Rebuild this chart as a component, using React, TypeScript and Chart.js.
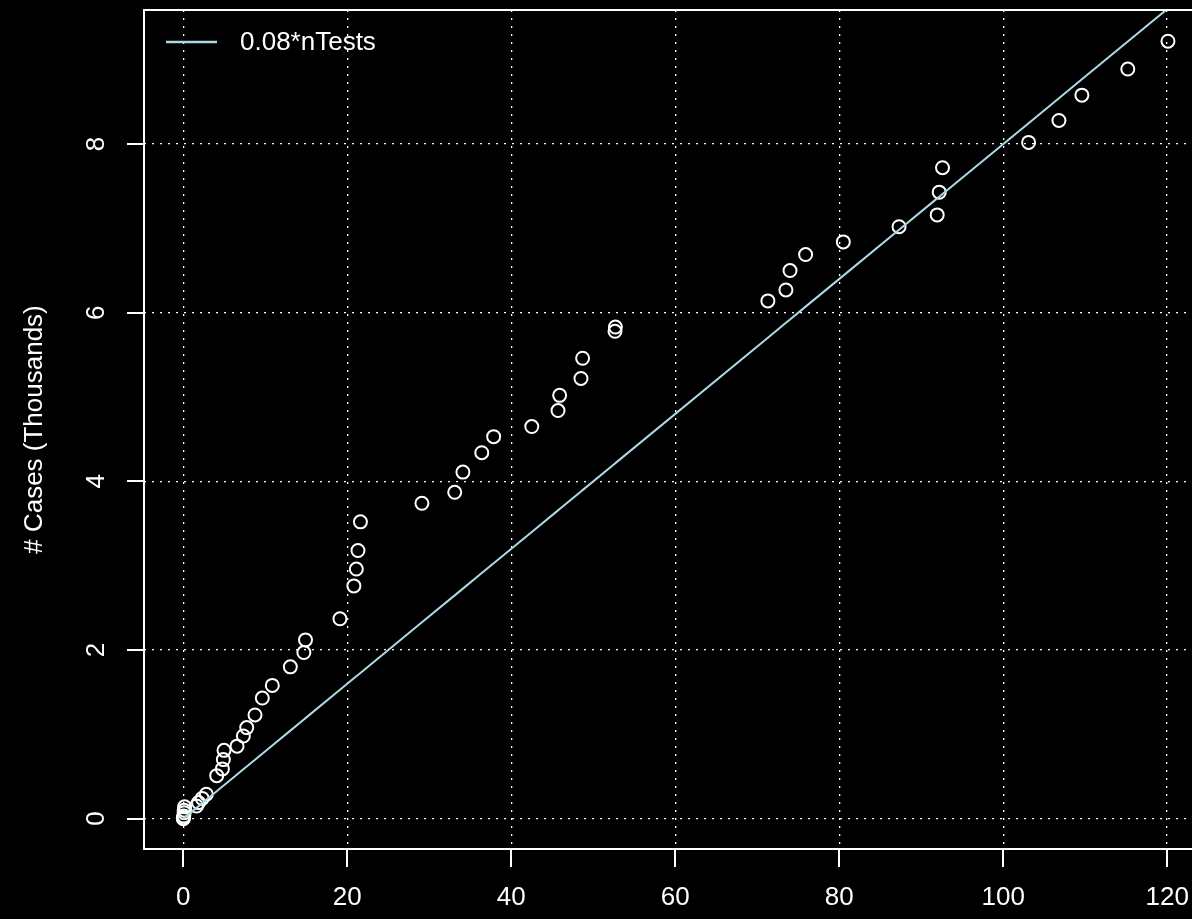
import React, { useEffect, useRef } from "react";
import { Chart, registerables } from "chart.js";

Chart.register(...registerables);

// Number of tests (thousands) and confirmed cases (thousands)
const nTests = [
  0, 0, 0.05, 0.1, 0.1, 0.15, 1.6, 1.85, 2.3, 2.8,
  4.07, 4.76, 4.88, 4.96, 6.55, 7.32, 7.73, 8.74, 9.63, 10.85,
  13.05, 14.7, 14.9, 19.1, 20.8, 21.1, 21.3, 21.6, 29.1, 33.1,
  34.1, 36.4, 37.85, 42.5, 45.7, 45.9, 48.5, 48.7, 52.65, 52.7,
  71.3, 73.5, 74.0, 75.9, 80.5, 87.3, 91.95, 92.2, 92.6, 103.1,
  106.8, 109.6, 115.2, 120.1,
];
const cases = [
  0, 0.01, 0.03, 0.07, 0.1, 0.14, 0.15, 0.19, 0.24, 0.29,
  0.51, 0.59, 0.7, 0.81, 0.86, 0.98, 1.08, 1.23, 1.43, 1.58,
  1.8, 1.97, 2.12, 2.37, 2.76, 2.96, 3.18, 3.52, 3.74, 3.87,
  4.11, 4.34, 4.53, 4.65, 4.84, 5.02, 5.22, 5.46, 5.78, 5.83,
  6.14, 6.27, 6.5, 6.69, 6.84, 7.02, 7.16, 7.43, 7.72, 8.02,
  8.28, 8.58, 8.89, 9.22,
];

const X_TICKS = [0, 20, 40, 60, 80, 100, 120];
const Y_TICKS = [0, 2, 4, 6, 8];
const X_RANGE = [-4.8, 124.8];
const Y_RANGE = [-0.36, 9.59];
const LINE_SLOPE = 0.08;
const LINE_LABEL = "0.08*nTests";
const Y_TITLE = "# Cases (Thousands)";

const FONT = '"Liberation Sans", Arial, Helvetica, sans-serif';
const W = 1215;
const H = 919;
const LINE_COLOR = "#ADD8E6";

export default function App() {
  const ref = useRef<HTMLCanvasElement>(null);

  useEffect(() => {
    const canvas = ref.current;
    if (!canvas) return;

    const bgPlugin = {
      id: "bg",
      beforeDraw(chart: any) {
        const ctx = chart.ctx;
        ctx.save();
        ctx.fillStyle = "#000";
        ctx.fillRect(0, 0, chart.width, chart.height);
        ctx.restore();
      },
    };

    const overlayPlugin = {
      id: "overlay",
      afterDraw(chart: any) {
        const { ctx, chartArea: a, scales } = chart;
        ctx.save();
        ctx.setLineDash([]);
        ctx.globalAlpha = 1;
        ctx.strokeStyle = "#fff";
        ctx.lineWidth = 2;
        ctx.strokeRect(a.left, a.top, a.right - a.left, a.bottom - a.top);

        // tick marks
        ctx.fillStyle = "#ffffff";
        const bottom = Math.round(a.bottom);
        for (const v of X_TICKS) {
          const x = Math.round(scales.x.getPixelForValue(v));
          ctx.fillRect(x - 1, bottom, 2, 18);
        }
        for (const v of Y_TICKS) {
          const y = Math.round(scales.y.getPixelForValue(v));
          ctx.fillRect(Math.round(a.left) - 17, y - 1, 17, 2);
        }

        ctx.font = `26px ${FONT}`;
        ctx.textAlign = "center";
        ctx.textBaseline = "middle";
        for (const v of Y_TICKS) {
          const y = scales.y.getPixelForValue(v);
          ctx.save();
          ctx.translate(97, y);
          ctx.rotate(-Math.PI / 2);
          ctx.fillText(String(v), 0, 0);
          ctx.restore();
        }
        for (const v of X_TICKS) {
          const x = scales.x.getPixelForValue(v);
          ctx.fillText(String(v), x, 898);
        }

        const ds = chart.data.datasets[0];
        ctx.strokeStyle = ds.borderColor;
        ctx.lineWidth = 2.5;
        ctx.beginPath();
        ctx.moveTo(166, 42);
        ctx.lineTo(217, 42);
        ctx.stroke();
        ctx.textAlign = "left";
        ctx.fillText(ds.label, 240, 43);
        ctx.restore();
      },
    };

    const gridOpts = {
      color: "#ffffff",
      lineWidth: 1.3,
      drawTicks: false,
    };

    const chart = new Chart(canvas, {
      type: "scatter",
      data: {
        datasets: [
          {
            type: "line",
            label: LINE_LABEL,
            data: nTests.map((x) => ({ x, y: LINE_SLOPE * x })),
            borderColor: LINE_COLOR,
            borderWidth: 2,
            pointRadius: 0,
            fill: false,
            clip: 0,
          } as any,
          {
            label: "cases",
            data: nTests.map((x, i) => ({ x, y: cases[i] })),
            pointStyle: "circle",
            pointRadius: 6.5,
            borderWidth: 2,
            borderColor: "#ffffff",
            backgroundColor: "rgba(0,0,0,0)",
          },
        ],
      },
      options: {
        animation: false,
        responsive: false,
        devicePixelRatio: 1,
        layout: { padding: { left: 0, right: 8, top: 10, bottom: 0 } },
        plugins: {
          legend: { display: false },
          tooltip: { enabled: false },
        },
        scales: {
          x: {
            type: "linear",
            min: X_RANGE[0],
            max: X_RANGE[1],
            afterBuildTicks: (s: any) => {
              s.ticks = X_TICKS.map((value) => ({ value }));
            },
            afterFit: (s: any) => {
              s.height = 70;
            },
            ticks: {
              color: "rgba(0,0,0,0)",
              font: { size: 1, family: FONT },
              padding: 0,
              maxRotation: 0,
              autoSkip: false,
            },
            grid: gridOpts as any,
            border: { display: false, dash: [2, 6] },
          },
          y: {
            type: "linear",
            min: Y_RANGE[0],
            max: Y_RANGE[1],
            afterBuildTicks: (s: any) => {
              s.ticks = Y_TICKS.map((value) => ({ value }));
            },
            afterFit: (s: any) => {
              s.width = 144;
            },
            ticks: {
              color: "rgba(0,0,0,0)",
              font: { size: 1, family: FONT },
              padding: 0,
            },
            grid: gridOpts as any,
            border: { display: false, dash: [2, 6] },
            title: {
              display: true,
              text: Y_TITLE,
              color: "#ffffff",
              font: { size: 26, family: FONT },
              padding: { top: 19, bottom: 0 },
            },
          },
        },
      },
      plugins: [bgPlugin, overlayPlugin],
    } as any);

    return () => chart.destroy();
  }, []);

  return (
    <div
      style={{
        position: "fixed",
        left: 0,
        top: 0,
        width: 1192,
        height: 919,
        overflow: "hidden",
        background: "#000",
      }}
    >
      <canvas
        ref={ref}
        width={W}
        height={H}
        style={{ width: W, height: H, display: "block" }}
      />
    </div>
  );
}
